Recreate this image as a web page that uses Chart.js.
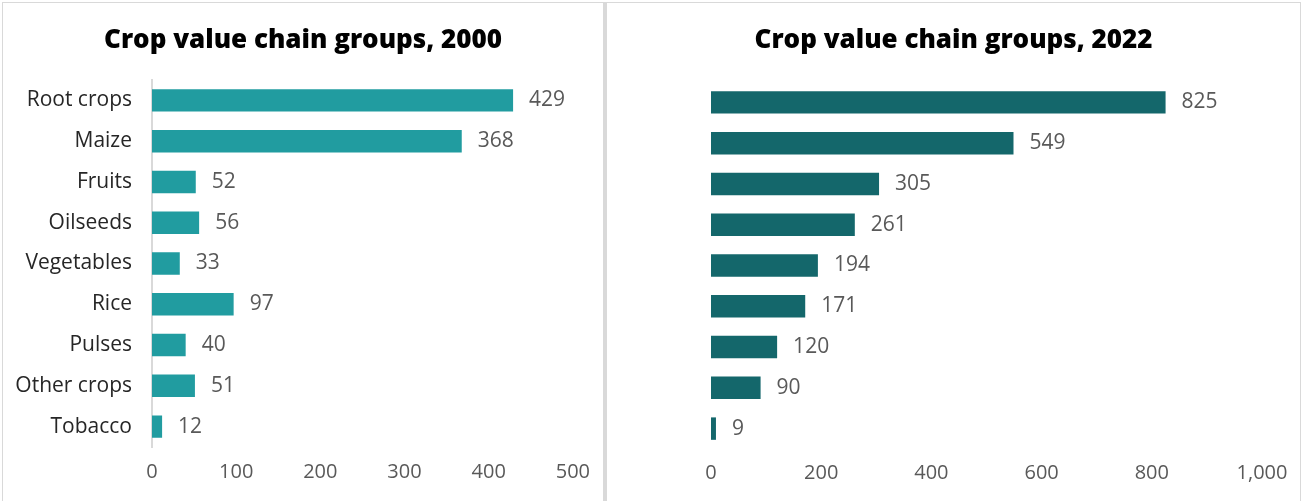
<!DOCTYPE html>
<html>
<head>
<meta charset="utf-8">
<script src="https://cdn.jsdelivr.net/npm/chart.js@4"></script>
<style>
  html, body { margin: 0; padding: 0; background: #fff; overflow: hidden; }
  .panel { position: absolute; top: 2px; height: 505px; border: 1px solid #d9d9d9; box-sizing: border-box; }
  #left { left: 2px; width: 604px; border-right: 3px solid #d9d9d9; }
  #right { left: 606px; width: 695px; }
  .panel canvas { display: block; }
</style>
</head>
<body>
<div class="panel" id="left"><canvas id="chart2000"></canvas></div>
<div class="panel" id="right"><canvas id="chart2022"></canvas></div>
<script>
// Crop groups (2000 panel shows these labels)
const categories = ['Root crops', 'Maize', 'Fruits', 'Oilseeds', 'Vegetables', 'Rice', 'Pulses', 'Other crops', 'Tobacco'];
// Values
const values2000 = [429, 368, 52, 56, 33, 97, 40, 51, 12];
const values2022 = [825, 549, 305, 261, 194, 171, 120, 90, 9];
// The 2022 panel has no category labels
const rows2022 = ['', '', '', '', '', '', '', '', ''];

const FONT = "'Open Sans', 'Noto Sans', sans-serif";

// draws the number just past the end of each bar
const valueLabels = {
    id: 'valueLabels',
    afterDatasetsDraw(chart) {
        const ctx = chart.ctx;
        const ds = chart.data.datasets[0];
        ctx.save();
        ctx.font = '21px ' + FONT;
        ctx.fillStyle = '#595959';
        ctx.textAlign = 'left';
        ctx.textBaseline = 'middle';
        chart.getDatasetMeta(0).data.forEach((bar, i) => {
            ctx.fillText(String(ds.data[i]), bar.x + 16, bar.y);
        });
        ctx.restore();
    }
};

// title centred on the whole panel (the built-in one shifts with padding)
const panelTitle = {
    id: 'panelTitle',
    afterDraw(chart, args, opts) {
        const ctx = chart.ctx;
        ctx.save();
        ctx.font = '800 26px ' + FONT;
        ctx.fillStyle = '#000';
        ctx.textAlign = 'center';
        ctx.textBaseline = 'middle';
        ctx.fillText(opts.text, chart.width / 2, 38);
        ctx.restore();
    }
};

function makeChart(id, labels, values, colour, title, maxX, step, showAxis, opt) {
    return new Chart(document.getElementById(id).getContext('2d'), {
        type: 'bar',
        data: {
            labels: labels,
            datasets: [{
                data: values,
                backgroundColor: colour,
                borderWidth: 0,
                categoryPercentage: 1,
                barPercentage: 0.55
            }]
        },
        options: {
            indexAxis: 'y',
            responsive: true,
            maintainAspectRatio: false,
            animation: false,
            layout: { padding: { left: 0, right: opt.right, top: opt.top, bottom: 9 } },
            plugins: {
                legend: { display: false },
                tooltip: { enabled: false },
                title: { display: false },
                panelTitle: { text: title }
            },
            scales: {
                x: {
                    min: 0,
                    max: maxX,
                    grid: { display: false, drawTicks: false },
                    border: { display: false },
                    ticks: {
                        stepSize: step,
                        color: '#595959',
                        padding: opt.tickPad,
                        font: { family: FONT, size: 20 }
                    }
                },
                y: {
                    grid: { display: false, drawTicks: false },
                    border: { display: showAxis, color: '#d9d9d9', width: 2 },
                    ticks: {
                        color: '#262626',
                        padding: 20,
                        font: { family: FONT, size: 21 }
                    },
                    afterFit: (s) => { s.width = opt.axisWidth; }
                }
            }
        },
        plugins: [valueLabels, panelTitle]
    });
}

makeChart('chart2000', categories, values2000, '#219ca0',
    'Crop value chain groups, 2000', 500, 100, true,
    { right: 25, top: 77, tickPad: 13, axisWidth: 149 });

makeChart('chart2022', rows2022, values2022, '#14676b',
    'Crop value chain groups, 2022', 1000, 200, false,
    { right: 38, top: 79, tickPad: 12, axisWidth: 104 });
</script>
</body>
</html>
